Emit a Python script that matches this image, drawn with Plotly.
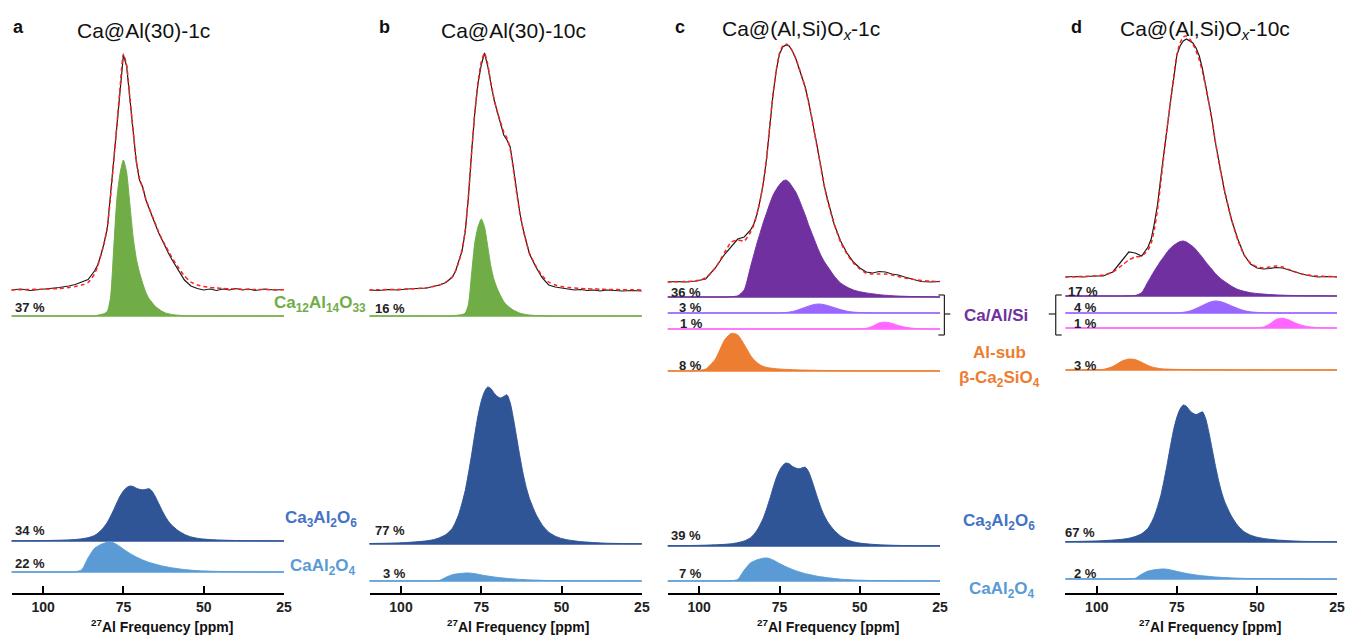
import plotly.graph_objects as go

# ---------------- data ----------------
PPM = [110, 107, 104, 101, 98, 95, 92, 90, 88, 86,
       84, 83, 82, 81, 80, 79, 78, 77, 76, 75,
       74, 73, 72, 71, 70, 69, 68, 67, 66, 65,
       64, 63, 62, 61, 60, 58, 56, 54, 52, 50,
       48, 46, 44, 42, 40, 38, 36, 34, 31, 28, 25]

TICKS = [100, 75, 50, 25]

SAMPLES = ["Ca@Al(30)-1c", "Ca@Al(30)-10c",
           "Ca@(Al,Si)O<sub><i>x</i></sub>-1c", "Ca@(Al,Si)O<sub><i>x</i></sub>-10c"]
PANEL_LETTERS = ["a", "b", "c", "d"]

# experimental spectra (intensity above baseline)
EXP_A = [0, 1, -0.5, 0.5, 1, 2.5, 4, 5.5, 8, 10.5,
         19, 25, 35, 47, 62, 93, 130, 165, 203, 235,
         224, 192, 160, 128, 110, 103, 90, 81, 73, 65,
         57, 50, 44, 37, 31, 21, 10, 4, 1.5, 0,
         1, -0.5, 1, 0, 1.5, 0, 1, -0.5, 1, 0, 0.5]
FIT_A = [0, 0.3, 0.5, 0.8, 1, 1.5, 2.5, 3.5, 5, 7.5,
         16, 24, 35, 47, 63, 93, 130, 166, 204, 236,
         225, 192, 160, 130, 112, 102, 91, 82, 74, 66,
         58, 51, 45, 39, 33, 23, 14, 8, 5, 3.5,
         2.5, 2, 1.5, 1.2, 1, 0.8, 0.6, 0.5, 0.4, 0.3, 0.2]
EXP_B = [0, -0.5, 0.5, 0, 1, 1.5, 2, 3.5, 5, 7.5,
         13, 19, 28, 39, 58, 93, 138, 178, 207, 225,
         237, 224, 206, 190, 178, 166, 155, 150, 143, 122,
         98, 77, 61, 48, 36, 23, 12, 5, 3, 2,
         1, 0, 0.5, -0.5, 0, -1, 0, -0.5, -1, -0.5, -1]
FIT_B = [0, 0.2, 0.4, 0.6, 1, 1.5, 2.3, 3.5, 5, 8,
         13, 19, 28, 40, 60, 94, 138, 178, 208, 228,
         237, 226, 207, 191, 178, 168, 158, 152, 141, 120,
         97, 77, 61, 48, 37, 24, 14, 8, 5, 3.5,
         2.5, 2, 1.5, 1.2, 1, 0.8, 0.6, 0.5, 0.3, 0.2, 0.1]
EXP_C = [0, 0.5, 0, 1, 3, 14, 28, 36, 43, 45,
         52, 58, 68, 82, 100, 124, 158, 188, 212, 228,
         235, 237, 236, 231, 224, 215, 205, 195, 181, 166,
         148, 131, 113, 95, 82, 58, 41, 29, 20, 14,
         10, 9, 10.5, 10, 8, 7, 5, 3, 0.5, 0, 0.5]
FIT_C = [0, 0.2, 0.5, 1.2, 4, 14, 30, 40, 42, 41,
         50, 57, 68, 82, 100, 124, 158, 188, 212, 229,
         236, 238, 236, 231, 224, 215, 205, 194, 180, 165,
         147, 130, 112, 95, 81, 58, 40, 28, 19, 13,
         9, 8, 8, 8, 7, 5.5, 4, 3, 1.5, 0.8, 0.5]
EXP_D = [0, 0.5, 0, 1, 1, 5, 17, 25, 24, 21,
         30, 38, 54, 73, 100, 127, 152, 175, 198, 222,
         231, 236, 238, 236, 234, 229, 221, 208, 192, 174,
         157, 135, 117, 99, 84, 58, 38, 22, 13, 9,
         8, 8.5, 9.5, 9, 7, 4.5, 3, 1.5, 0, 0.5, 0]
FIT_D = [0, 0.3, 0.6, 1, 2, 5, 12, 17, 20, 21,
         27, 34, 48, 68, 95, 123, 150, 175, 200, 222,
         234, 240, 241, 238, 233, 226, 217, 205, 190, 174,
         156, 136, 117, 100, 85, 58, 37, 22, 14, 10,
         9, 10, 11, 10, 7.5, 5, 3, 2, 1, 0.5, 0.3]

# normalised component line shapes
PROFILE_GREEN = [0, 0, 0, 0, 0, 0, 0, 0, 0, 0,
                 0, 0.005, 0.01, 0.015, 0.03, 0.12, 0.44, 0.76, 0.92, 1.0,
                 0.92, 0.72, 0.51, 0.37, 0.28, 0.21, 0.15, 0.11, 0.085, 0.06,
                 0.045, 0.03, 0.02, 0.015, 0.01, 0.005, 0.002, 0, 0, 0,
                 0, 0, 0, 0, 0, 0, 0, 0, 0, 0, 0]
PROFILE_C3A = [0.003, 0.004, 0.005, 0.007, 0.01, 0.014, 0.02, 0.027, 0.04, 0.06,
               0.1, 0.14, 0.19, 0.26, 0.34, 0.45, 0.57, 0.7, 0.82, 0.91,
               0.97, 1.0, 0.99, 0.96, 0.94, 0.93, 0.94, 0.95, 0.9, 0.8,
               0.68, 0.56, 0.45, 0.36, 0.29, 0.19, 0.12, 0.075, 0.05, 0.035,
               0.026, 0.02, 0.015, 0.012, 0.009, 0.007, 0.005, 0.004, 0.003, 0.002, 0.002]
PROFILE_CA = [0, 0, 0, 0, 0, 0, 0.002, 0.01, 0.07, 0.47,
              0.79, 0.86, 0.92, 0.96, 0.99, 1.0, 0.97, 0.91, 0.84, 0.76,
              0.69, 0.62, 0.56, 0.5, 0.45, 0.4, 0.36, 0.32, 0.29, 0.26,
              0.23, 0.2, 0.18, 0.16, 0.14, 0.11, 0.08, 0.06, 0.045, 0.035,
              0.027, 0.02, 0.015, 0.011, 0.008, 0.006, 0.004, 0.003, 0.002, 0.001, 0]
PROFILE_PURPLE = [0, 0, 0, 0, 0, 0, 0, 0.003, 0.01, 0.06,
                  0.26, 0.36, 0.46, 0.55, 0.64, 0.72, 0.8, 0.87, 0.92, 0.96,
                  0.99, 1.0, 0.98, 0.94, 0.9, 0.84, 0.77, 0.7, 0.62, 0.55,
                  0.48, 0.41, 0.35, 0.3, 0.26, 0.18, 0.12, 0.085, 0.06, 0.045,
                  0.035, 0.027, 0.02, 0.015, 0.011, 0.008, 0.006, 0.004, 0.003, 0.002, 0]
PROFILE_LPURPLE = [0, 0, 0, 0, 0, 0, 0, 0, 0, 0,
                   0, 0, 0, 0, 0, 0, 0, 0, 0, 0.01,
                   0.03, 0.06, 0.1, 0.17, 0.26, 0.38, 0.5, 0.63, 0.76, 0.87,
                   0.96, 1.0, 0.98, 0.92, 0.83, 0.6, 0.38, 0.2, 0.1, 0.05,
                   0.025, 0.01, 0.005, 0, 0, 0, 0, 0, 0, 0, 0]
PROFILE_PINK = [0, 0, 0, 0, 0, 0, 0, 0, 0, 0,
                0, 0, 0, 0, 0, 0, 0, 0, 0, 0,
                0, 0, 0, 0, 0, 0, 0, 0, 0, 0,
                0, 0, 0, 0, 0, 0, 0, 0, 0, 0.02,
                0.1, 0.4, 0.86, 0.98, 0.8, 0.5, 0.27, 0.13, 0.04, 0.01, 0]
PROFILE_ORANGE = [0, 0, 0.003, 0.01, 0.05, 0.31, 0.83, 0.99, 0.95, 0.7,
                  0.41, 0.3, 0.22, 0.16, 0.12, 0.095, 0.08, 0.068, 0.06, 0.053,
                  0.047, 0.042, 0.038, 0.034, 0.031, 0.028, 0.026, 0.024, 0.022, 0.02,
                  0.018, 0.016, 0.015, 0.014, 0.013, 0.011, 0.009, 0.008, 0.007, 0.006,
                  0.005, 0.004, 0.004, 0.003, 0.003, 0.002, 0.002, 0.002, 0.001, 0.001, 0]

PROFILES = {"green": PROFILE_GREEN, "c3a": PROFILE_C3A, "ca": PROFILE_CA,
            "purple": PROFILE_PURPLE, "lpurple": PROFILE_LPURPLE,
            "pink": PROFILE_PINK, "orange": PROFILE_ORANGE}

COMPONENTS_AB = ["green", "c3a", "ca"]
COMPONENTS_CD = ["purple", "lpurple", "pink", "orange", "c3a", "ca"]

AMP_A = [156, 55, 30]
AMP_B = [97, 157, 8]
AMP_C = [117, 9, 7, 38, 83, 23]
AMP_D = [55, 12, 10, 11, 137, 10]

PCT_A = [37, 34, 22]
PCT_B = [16, 77, 3]
PCT_C = [36, 3, 1, 8, 39, 7]
PCT_D = [17, 4, 1, 3, 67, 2]

EXPS = [EXP_A, EXP_B, EXP_C, EXP_D]
FITS = [FIT_A, FIT_B, FIT_C, FIT_D]
COMPS = [COMPONENTS_AB, COMPONENTS_AB, COMPONENTS_CD, COMPONENTS_CD]
AMPS = [AMP_A, AMP_B, AMP_C, AMP_D]
PCTS = [PCT_A, PCT_B, PCT_C, PCT_D]

for arr in EXPS + FITS + list(PROFILES.values()):
    assert len(arr) == len(PPM), len(arr)

# ---------------- layout / style ----------------
W, H = 1354, 635
PB = 593  # pixel row of the x axes (bottom of plot area)
FONT = "Liberation Sans, Arial, Helvetica, sans-serif"

COLORS = {"green": "#70AD47", "c3a": "#2F5597", "ca": "#5B9BD5",
          "purple": "#7030A0", "lpurple": "#9966FF", "pink": "#FF66FF",
          "orange": "#ED7D31"}

DOMAIN_PX = [(11.7, 285.7), (371.7, 645.7), (671.7, 945.7), (1071.7, 1345.0)]
X_RANGE = [109.8, 25]
EXP_BASE_PX = [290, 290, 282, 277]
COMP_BASE_PX = [[316, 541, 572], [316, 544, 581],
                [297, 313, 329, 371, 546, 581], [296, 313, 328, 370, 542, 579]]
PCT_POS = [[(13, 307), (13, 530), (13, 563)],
           [(375, 308), (375, 530), (383, 573)],
           [(673, 292), (681, 307), (682, 323), (681, 365), (673, 535), (681, 573)],
           [(1072, 291), (1078, 307), (1078, 323), (1078, 365), (1069, 532), (1078, 573)]]
LETTER_POS = [(19, 27), (387, 27), (684, 27), (1083, 27)]
TITLE_POS = [(144, 30), (517, 30), (806, 30), (1212, 30)]
XTITLE_POS = [(163, 626), (521, 626), (833, 626), (1217, 626)]


def yv(py):
    return PB - py


def pxx(x):
    return x / W


def pyy(y):
    return (PB - y) / PB


fig = go.Figure()

for i in range(4):
    xa = "x" if i == 0 else f"x{i + 1}"
    for k, name in enumerate(COMPS[i]):
        base = yv(COMP_BASE_PX[i][k])
        col = COLORS[name]
        fig.add_trace(go.Scatter(x=PPM, y=[base] * len(PPM), xaxis=xa, yaxis="y",
                                 mode="lines", line=dict(color=col, width=1.6),
                                 hoverinfo="skip", showlegend=False))
        fig.add_trace(go.Scatter(x=PPM, y=[base + AMPS[i][k] * p for p in PROFILES[name]],
                                 xaxis=xa, yaxis="y", mode="lines",
                                 line=dict(color=col, width=1, shape="spline", smoothing=0.6),
                                 fill="tonexty", fillcolor=col,
                                 hoverinfo="skip", showlegend=False))
    eb = yv(EXP_BASE_PX[i])
    fig.add_trace(go.Scatter(x=PPM, y=[eb + v for v in EXPS[i]], xaxis=xa, yaxis="y",
                             mode="lines", line=dict(color="#1a1a1a", width=1.2),
                             showlegend=False))
    fig.add_trace(go.Scatter(x=PPM, y=[eb + v for v in FITS[i]], xaxis=xa, yaxis="y",
                             mode="lines",
                             line=dict(color="#FF2020", width=1.5, dash="4px,3px",
                                       shape="spline", smoothing=0.6),
                             showlegend=False))

layout = dict(
    width=W, height=H,
    margin=dict(l=0, r=0, t=0, b=H - PB, pad=0),
    paper_bgcolor="white", plot_bgcolor="white",
    font=dict(family=FONT, color="#111"),
    showlegend=False,
    yaxis=dict(range=[0, PB], visible=False, fixedrange=True, domain=[0, 1]),
)
for i in range(4):
    key = "xaxis" if i == 0 else f"xaxis{i + 1}"
    d0, d1 = DOMAIN_PX[i]
    layout[key] = dict(
        domain=[pxx(d0), pxx(d1)], range=X_RANGE, anchor="y",
        showline=True, linecolor="black", linewidth=2,
        ticks="inside", ticklen=7, tickwidth=2, tickcolor="black",
        tickvals=TICKS, ticktext=[str(t) for t in TICKS],
        tickfont=dict(size=14, color="#222", family=FONT, weight="bold"),
        showgrid=False, zeroline=False, fixedrange=True,
    )
fig.update_layout(**layout)

annotations = []


def ann(x, y, text, size, color, xanchor="center"):
    annotations.append(dict(x=pxx(x), y=pyy(y), xref="paper", yref="paper",
                            text=text, showarrow=False, xanchor=xanchor, yanchor="middle",
                            font=dict(size=size, color=color, family=FONT)))


for i in range(4):
    ann(*LETTER_POS[i], f"<b>{PANEL_LETTERS[i]}</b>", 18, "#111")
    ann(*TITLE_POS[i], SAMPLES[i], 21, "#111")
    ann(*XTITLE_POS[i], "<b><sup>27</sup>Al Frequency [ppm]</b>", 14, "#111")
    for k, pct in enumerate(PCTS[i]):
        x, y = PCT_POS[i][k]
        ann(x, y, f"<b>{pct} %</b>", 13, "#222", xanchor="left")

# phase labels
ann(322, 304, "<b>Ca<sub>12</sub>Al<sub>14</sub>O<sub>33</sub></b>", 17, COLORS["green"])
ann(323, 519, "<b>Ca<sub>3</sub>Al<sub>2</sub>O<sub>6</sub></b>", 17, "#4472C4")
ann(325, 567, "<b>CaAl<sub>2</sub>O<sub>4</sub></b>", 17, COLORS["ca"])
ann(1002, 315, "<b>Ca/Al/Si</b>", 17, COLORS["purple"])
ann(1005, 352, "<b>Al-sub</b>", 17, COLORS["orange"])
ann(1005, 379, "<b>β-Ca<sub>2</sub>SiO<sub>4</sub></b>", 17, COLORS["orange"])
ann(1005, 522, "<b>Ca<sub>3</sub>Al<sub>2</sub>O<sub>6</sub></b>", 17, "#4472C4")
ann(1008, 590, "<b>CaAl<sub>2</sub>O<sub>4</sub></b>", 17, COLORS["ca"])

shapes = []


def seg(x0, y0, x1, y1):
    shapes.append(dict(type="line", xref="paper", yref="paper",
                       x0=pxx(x0), y0=pyy(y0), x1=pxx(x1), y1=pyy(y1),
                       line=dict(color="#222", width=1.2)))


# brackets grouping the Ca/Al/Si components
seg(944, 295, 950, 295)
seg(950, 295, 950, 335)
seg(944, 335, 950, 335)
seg(950, 314, 956, 314)
seg(1068, 295, 1062, 295)
seg(1062, 295, 1062, 335)
seg(1068, 335, 1062, 335)
seg(1062, 314, 1055, 314)

fig.update_layout(annotations=annotations, shapes=shapes)

fig.write_html("out.html", config={"displayModeBar": False})
